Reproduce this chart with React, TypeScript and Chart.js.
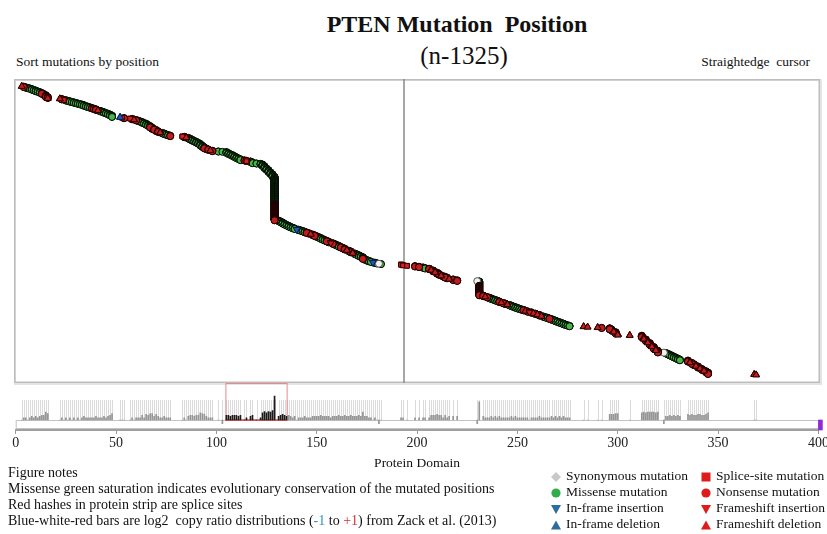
import { useEffect, useRef } from "react";
import { Chart, registerables } from "chart.js";

Chart.register(...registerables);

// ---------------- data (protein position of each mutated site, mutations per site) ----------------
const missensePositions = [
  5, 6, 7, 8, 9, 10, 11, 12, 13, 14, 15,
  25, 26, 27, 28, 29, 30, 31, 32, 33, 34, 35, 36, 37, 42, 43, 44, 45, 46, 47, 48,
  61, 62, 63, 64, 65, 66, 67, 68, 70, 73, 74, 75, 76,
  86, 87, 88, 89, 90, 91, 92, 93, 94, 95,
  101, 103, 105, 106, 107, 108, 109, 110, 111, 112, 117, 118, 120, 122,
  123, 124, 125, 126, 127, 128, 129,
  131, 132, 133, 134, 135, 136, 137, 138, 139, 141, 142, 143, 144, 146, 150, 151, 152, 153, 154, 156,
  159, 160, 161, 163, 166, 169, 170, 171, 172, 173, 174, 175, 176, 177, 179, 180, 182,
  203, 204, 213, 215,
  231,
  236, 237, 238, 239, 240, 244, 246, 247, 248, 249, 250, 251, 252, 263, 264, 265, 267, 268, 269, 270,
  271, 272, 273, 274, 275, 276,
  297,
  324, 325, 326, 327, 328, 329, 330, 331,
  338,
];
const missenseCounts = [
  3, 2, 3, 4, 3, 4, 3, 4, 3, 5, 3,
  3, 2, 3, 2, 3, 2, 3, 2, 3, 4, 3, 3, 3, 3, 3, 4, 3, 4, 5, 7,
  3, 3, 5, 3, 6, 5, 5, 7, 6, 3, 4, 3, 3,
  4, 5, 5, 4, 5, 5, 8, 7, 4, 4,
  2, 1, 5, 5, 4, 5, 5, 5, 4, 5, 4, 5, 2, 3,
  8, 10, 8, 10, 9, 12, 125,
  4, 5, 6, 5, 4, 5, 4, 3, 4, 3, 3, 3, 4, 3, 4, 4, 5, 4, 4, 4,
  4, 4, 5, 4, 4, 4, 4, 5, 4, 6, 4, 4, 3, 3, 3, 2, 2,
  3, 3, 3, 3,
  20,
  3, 4, 3, 4, 3, 3, 3, 4, 3, 4, 3, 3, 3, 3, 3, 3, 4, 3, 4, 3,
  4, 3, 4, 3, 3, 3,
  6,
  4, 4, 5, 4, 5, 4, 5, 4,
  5,
];
const missenseLowConservationPositions = [181, 230, 323];
const missenseLowConservationCounts = [1, 1, 1];

const nonsensePositions = [
  4, 13, 15, 16, 23, 38, 39, 40, 54, 58, 60, 67, 69, 71, 77, 84, 94, 96, 98, 114, 115, 129,
  145, 148, 149, 155, 158, 162, 164, 167, 173, 199, 201, 206, 208, 210, 211, 214, 218, 220, 231,
  233, 235, 241, 243, 253, 255, 257, 259, 261, 266, 292, 296, 299, 312, 314, 316, 318, 320,
  335, 337, 340, 342, 344, 345,
];
const nonsenseCounts = [
  3, 2, 6, 5, 3, 3, 3, 4, 2, 3, 3, 2, 4, 4, 3, 3, 2, 3, 3, 2, 2, 75,
  3, 4, 4, 4, 4, 4, 5, 5, 3, 3, 3, 3, 5, 6, 5, 5, 4, 4, 45,
  4, 3, 4, 3, 3, 3, 3, 3, 4, 3, 2, 6, 7, 8, 8, 9, 9, 9,
  6, 6, 6, 5, 6, 8,
];
const spliceSitePositions = [24, 53, 57, 83, 115, 192, 193, 195];
const spliceSiteCounts = [2, 2, 2, 2, 1, 3, 3, 2];
const frameshiftDeletionPositions = [
  3, 16, 22, 41, 59, 72, 85, 97, 147, 165, 168, 207, 209, 212, 216,
  234, 242, 245, 254, 258, 260, 262, 283, 285, 290, 298, 300, 306,
  313, 315, 317, 319, 336, 339, 341, 343, 368, 369,
];
const frameshiftDeletionCounts = [
  2, 2, 2, 3, 2, 3, 2, 3, 3, 4, 4, 5, 5, 5, 4,
  3, 3, 3, 3, 3, 3, 3, 2, 2, 2, 6, 7, 2,
  9, 9, 9, 8, 5, 5, 6, 5, 2, 2,
];
const frameshiftInsertionPositions = [157, 256];
const frameshiftInsertionCounts = [3, 2];
const inframeDeletionPositions = [52];
const inframeDeletionCounts = [2];
const inframeInsertionPositions = [140, 178];
const inframeInsertionCounts = [2, 2];

const xTickValues = [0, 50, 100, 150, 200, 250, 300, 350, 400];
const cursorPosition = 193.5;
const highlightRange = [104.5, 135];
const proteinEndMarker = [401];

// ---------------- styles ----------------
const SERIF = '"Liberation Serif", "Times New Roman", Times, serif';

type Series = {
  key: string;
  positions: number[];
  counts: number[];
  pointStyle: string;
  rotation: number;
  radius: number;
  bg: string;
  border: string;
};

const seriesList: Series[] = [
  { key: "missense", positions: missensePositions, counts: missenseCounts, pointStyle: "circle", rotation: 0, radius: 3.5, bg: "#45b845", border: "#020802" },
  { key: "missenseLow", positions: missenseLowConservationPositions, counts: missenseLowConservationCounts, pointStyle: "circle", rotation: 0, radius: 3.5, bg: "#eef3ee", border: "#555555" },
  { key: "nonsense", positions: nonsensePositions, counts: nonsenseCounts, pointStyle: "circle", rotation: 0, radius: 3.5, bg: "#c41c1c", border: "#140000" },
  { key: "splice", positions: spliceSitePositions, counts: spliceSiteCounts, pointStyle: "rect", rotation: 0, radius: 3.3, bg: "#d42020", border: "#3a0000" },
  { key: "fsDel", positions: frameshiftDeletionPositions, counts: frameshiftDeletionCounts, pointStyle: "triangle", rotation: 0, radius: 3.9, bg: "#c81e1e", border: "#2a0000" },
  { key: "fsIns", positions: frameshiftInsertionPositions, counts: frameshiftInsertionCounts, pointStyle: "triangle", rotation: 180, radius: 3.9, bg: "#c81e1e", border: "#2a0000" },
  { key: "ifDel", positions: inframeDeletionPositions, counts: inframeDeletionCounts, pointStyle: "triangle", rotation: 0, radius: 3.9, bg: "#2456b8", border: "#0a1f50" },
  { key: "ifIns", positions: inframeInsertionPositions, counts: inframeInsertionCounts, pointStyle: "triangle", rotation: 180, radius: 3.9, bg: "#2456b8", border: "#0a1f50" },
];

function buildData() {
  const sites: { pos: number; count: number; s: number }[] = [];
  seriesList.forEach((ser, s) => {
    ser.positions.forEach((p, i) => sites.push({ pos: p, count: ser.counts[i], s }));
  });
  sites.sort((a, b) => a.pos - b.pos || a.s - b.s);
  const pts: { x: number; y: number }[][] = seriesList.map(() => []);
  const totals = new Map<number, number>();
  let rank = 0;
  for (const site of sites) {
    for (let k = 0; k < site.count; k++) {
      rank += 1;
      pts[site.s].push({ x: site.pos, y: rank });
    }
    totals.set(site.pos, (totals.get(site.pos) || 0) + site.count);
  }
  const hist = Array.from(totals.entries())
    .sort((a, b) => a[0] - b[0])
    .map(([p, c]) => ({ x: p, y: c }));
  return { pts, hist, total: rank };
}

const STRIP_BASE = 2;
const STRIP_MIN = 0.294;
const STRIP_MAX = 2422;

export default function App() {
  const mainRef = useRef<HTMLCanvasElement>(null);
  const stripRef = useRef<HTMLCanvasElement>(null);

  useEffect(() => {
    const { pts, hist } = buildData();

    const framePlugin = {
      id: "frame",
      beforeDatasetsDraw(chart: any) {
        const { ctx, chartArea: a } = chart;
        ctx.save();
        ctx.strokeStyle = "#e4e4e4";
        ctx.lineWidth = 2;
        ctx.strokeRect(a.left + 1, a.top + 1, a.right - a.left, a.bottom - a.top);
        ctx.strokeStyle = "#bdbdbd";
        ctx.lineWidth = 1.5;
        ctx.strokeRect(a.left + 0.75, a.top + 0.75, a.right - a.left - 1.5, a.bottom - a.top - 1.5);
        ctx.restore();
      },
    };

    const scatterDatasets: any[] = seriesList.map((ser, i) => ({
      type: "scatter",
      data: pts[i],
      pointStyle: ser.pointStyle,
      rotation: ser.rotation,
      pointRadius: ser.radius,
      backgroundColor: ser.bg,
      borderColor: ser.border,
      borderWidth: 1,
      clip: false,
      order: seriesList.length - i,
    }));
    scatterDatasets.push({
      type: "scatter",
      showLine: true,
      data: [
        { x: cursorPosition, y: -32 },
        { x: cursorPosition, y: 1362 },
      ],
      borderColor: "#8a8a8a",
      borderWidth: 1.5,
      pointRadius: 0,
      order: 100,
    });

    const main = new Chart(mainRef.current as HTMLCanvasElement, {
      type: "scatter",
      data: { datasets: scatterDatasets },
      options: {
        responsive: false,
        animation: false,
        events: [],
        layout: { padding: { left: 14, right: 7, top: 79, bottom: 7 } },
        plugins: { legend: { display: false }, tooltip: { enabled: false } },
        scales: {
          x: { type: "linear", min: -0.85, max: 400.8, display: false },
          y: { type: "linear", min: -32, max: 1362, reverse: true, display: false },
        },
      } as any,
      plugins: [framePlugin],
    });

    const stripPlugin = {
      id: "strip",
      beforeDatasetsDraw(chart: any) {
        const { ctx, chartArea: a, scales } = chart;
        const x = scales.x;
        const y = scales.y;
        const base = y.getPixelForValue(STRIP_BASE);
        ctx.save();
        // guide hashes for each mutated site
        ctx.strokeStyle = "#dadada";
        ctx.lineWidth = 1;
        ctx.beginPath();
        for (const h of hist) {
          const px = Math.round(x.getPixelForValue(h.x)) + 0.5;
          ctx.moveTo(px, base);
          ctx.lineTo(px, base - 20);
        }
        ctx.stroke();
        // protein strip
        const x0 = x.getPixelForValue(0);
        const x1 = x.getPixelForValue(proteinEndMarker[0]);
        ctx.fillStyle = "#ffffff";
        ctx.fillRect(x0, base, x1 - x0, a.bottom - base - 1);
        ctx.strokeStyle = "#c4c4c4";
        ctx.lineWidth = 1;
        ctx.strokeRect(x0 + 0.5, base + 0.5, x1 - x0, a.bottom - base - 2);
        // highlighted region
        const hx0 = x.getPixelForValue(highlightRange[0]);
        const hx1 = x.getPixelForValue(highlightRange[1]);
        ctx.strokeStyle = "#e58a8a";
        ctx.strokeRect(hx0 + 0.5, a.top + 0.5, hx1 - hx0, base - a.top);
        ctx.strokeStyle = "#d84a4a";
        ctx.lineWidth = 1.5;
        ctx.beginPath();
        ctx.moveTo(hx0, base);
        ctx.lineTo(hx1, base);
        ctx.stroke();
        ctx.restore();
      },
    };

    const strip = new Chart(stripRef.current as HTMLCanvasElement, {
      type: "bar",
      data: {
        datasets: [
          {
            data: hist.map((h) => ({ x: h.x, y: [STRIP_BASE, h.y] })) as any,
            backgroundColor: (c: any) => {
              const v = c.raw ? c.raw.x : 0;
              return v >= highlightRange[0] && v <= highlightRange[1] ? "#1a1a1a" : "#959595";
            },
            barThickness: 1,
            grouped: false,
          },
          {
            data: proteinEndMarker.map((p) => ({ x: p, y: [STRIP_MIN, STRIP_BASE] })) as any,
            backgroundColor: "#8d2bd8",
            barThickness: 4,
            grouped: false,
            clip: false,
          },
        ],
      },
      options: {
        responsive: false,
        animation: false,
        events: [],
        layout: { padding: { left: 15.7, right: 41.6, top: 0, bottom: 0 } },
        plugins: { legend: { display: false }, tooltip: { enabled: false } },
        scales: {
          x: {
            type: "linear",
            min: 0,
            max: 400,
            offset: false,
            afterBuildTicks: (s: any) => {
              s.ticks = xTickValues.map((v) => ({ value: v }));
            },
            afterFit: (s: any) => {
              s.height = 45;
            },
            grid: { display: true, offset: false, drawOnChartArea: false, drawTicks: true, tickLength: 4, color: "#9a9a9a" },
            border: { display: true, color: "#a0a0a0", width: 2 },
            ticks: { font: { family: SERIF, size: 14 }, color: "#222", padding: 1, maxRotation: 0, autoSkip: false },
            title: { display: true, text: "Protein Domain", font: { family: SERIF, size: 13.5 }, color: "#111", padding: { top: 0, bottom: 3 } },
          },
          y: { type: "logarithmic", min: STRIP_MIN, max: STRIP_MAX, display: false },
        },
      } as any,
      plugins: [stripPlugin],
    });

    return () => {
      main.destroy();
      strip.destroy();
    };
  }, []);

  const legendLeft = [
    { label: "Synonymous mutation", shape: "diamond", color: "#c8c8c8" },
    { label: "Missense mutation", shape: "circle", color: "#2fae4a" },
    { label: "In-frame insertion", shape: "down", color: "#2d6c9c" },
    { label: "In-frame deletion", shape: "up", color: "#2d6c9c" },
  ];
  const legendRight = [
    { label: "Splice-site mutation", shape: "square", color: "#e01b1b" },
    { label: "Nonsense mutation", shape: "circle", color: "#e01b1b" },
    { label: "Frameshift insertion", shape: "down", color: "#e01b1b" },
    { label: "Frameshift deletion", shape: "up", color: "#e01b1b" },
  ];
  const rowCenters = [477, 493, 509, 525];

  const marker = (shape: string, color: string) => {
    let el: any = null;
    if (shape === "diamond") el = <polygon points="5,0 10,5 5,10 0,5" fill={color} />;
    else if (shape === "circle") el = <circle cx="5" cy="5" r="4.6" fill={color} />;
    else if (shape === "square") el = <rect x="0.5" y="0.5" width="9" height="9" fill={color} />;
    else if (shape === "up") el = <polygon points="5,0.5 10,9.5 0,9.5" fill={color} />;
    else el = <polygon points="0,1 10,1 5,10" fill={color} />;
    return (
      <svg width="10" height="10" viewBox="0 0 10 10" style={{ display: "block" }}>
        {el}
      </svg>
    );
  };

  const textStyle: any = { position: "absolute", fontFamily: SERIF, color: "#111", whiteSpace: "pre" };

  return (
    <div
      style={{
        position: "absolute",
        left: 0,
        top: 0,
        width: 827,
        height: 534,
        overflow: "hidden",
        background: "#ffffff",
        fontFamily: SERIF,
      }}
    >
      <div style={{ ...textStyle, left: 257, top: 10, width: 400, textAlign: "center", fontSize: 24, lineHeight: "28px", fontWeight: "bold" }}>
        {"PTEN Mutation  Position"}
      </div>
      <div style={{ ...textStyle, left: 364, top: 41, width: 200, textAlign: "center", fontSize: 25, lineHeight: "30px" }}>
        {"(n-1325)"}
      </div>
      <div style={{ ...textStyle, left: 16, top: 54, fontSize: 13.5, lineHeight: "16px" }}>Sort mutations by position</div>
      <div style={{ ...textStyle, left: 0, width: 810, top: 54, textAlign: "right", fontSize: 13.5, lineHeight: "16px" }}>
        {"Straightedge  cursor"}
      </div>

      <canvas ref={mainRef} width={827} height={390} style={{ position: "absolute", left: 0, top: 0 }} />
      <canvas ref={stripRef} width={860} height={92} style={{ position: "absolute", left: 0, top: 383 }} />

      <div style={{ ...textStyle, left: 8, top: 465, fontSize: 14, lineHeight: "16px" }}>
        <div>Figure notes</div>
        <div>Missense green saturation indicates evolutionary conservation of the mutated positions</div>
        <div>Red hashes in protein strip are splice sites</div>
        <div>
          {"Blue-white-red bars are log2  copy ratio distributions ("}
          <span style={{ color: "#3b8fc4" }}>-1</span>
          {" to "}
          <span style={{ color: "#d63030" }}>+1</span>
          {") from Zack et al. (2013)"}
        </div>
      </div>

      {legendLeft.map((it, i) => (
        <div key={"l" + i}>
          <div style={{ position: "absolute", left: 551, top: rowCenters[i] - 5 }}>{marker(it.shape, it.color)}</div>
          <div style={{ ...textStyle, left: 566, top: rowCenters[i] - 9, fontSize: 13.5, lineHeight: "16px" }}>{it.label}</div>
        </div>
      ))}
      {legendRight.map((it, i) => (
        <div key={"r" + i}>
          <div style={{ position: "absolute", left: 701, top: rowCenters[i] - 5 }}>{marker(it.shape, it.color)}</div>
          <div style={{ ...textStyle, left: 716, top: rowCenters[i] - 9, fontSize: 13.5, lineHeight: "16px" }}>{it.label}</div>
        </div>
      ))}
    </div>
  );
}
